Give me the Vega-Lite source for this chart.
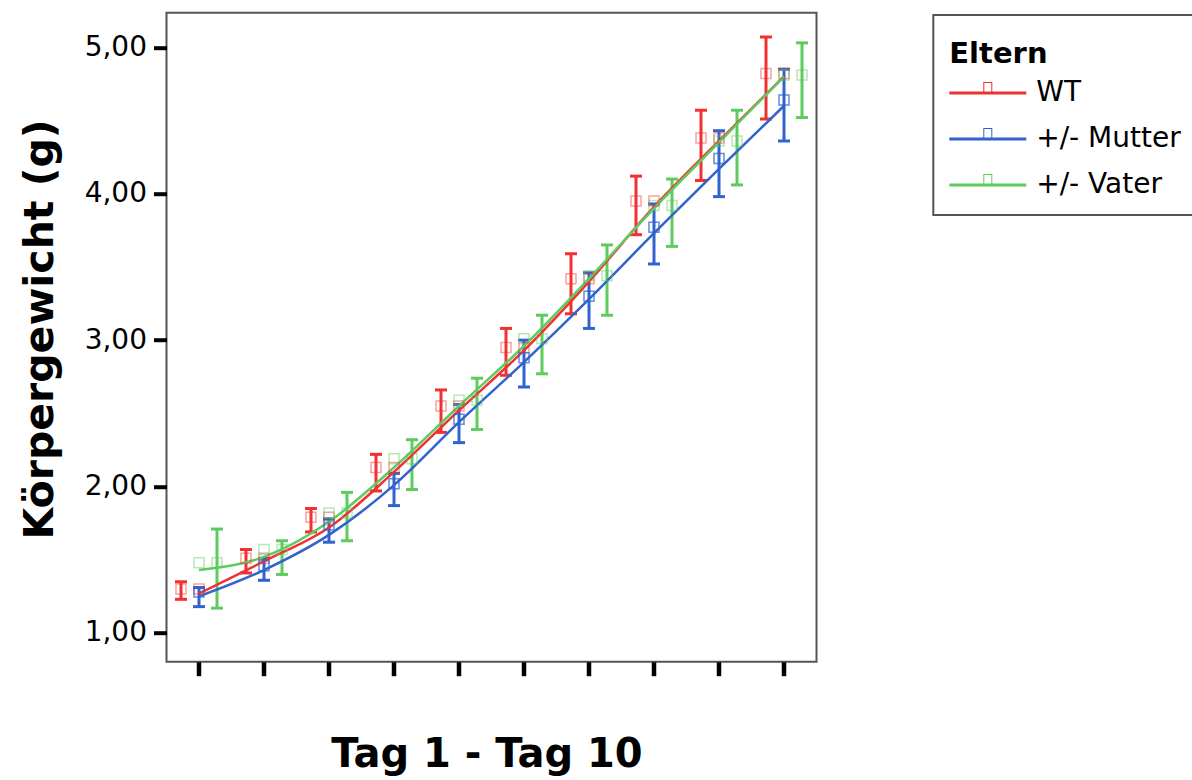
{
  "$schema": "https://vega.github.io/schema/vega-lite/v6.json",
  "width": 650,
  "height": 649,
  "autosize": {"type": "none"},
  "padding": {"left": 166.5, "top": 12.7, "right": 375.5, "bottom": 118.3},
  "background": "white",
  "config": {
    "font": "DejaVu Sans",
    "view": {"stroke": "#555555", "strokeWidth": 2}
  },
  "data": {
    "values": [
      {"day": 1, "group": "WT", "mean": 1.30, "lo": 1.23, "hi": 1.35, "fit": 1.27},
      {"day": 2, "group": "WT", "mean": 1.51, "lo": 1.41, "hi": 1.57, "fit": 1.49},
      {"day": 3, "group": "WT", "mean": 1.79, "lo": 1.69, "hi": 1.85, "fit": 1.72},
      {"day": 4, "group": "WT", "mean": 2.13, "lo": 1.97, "hi": 2.22, "fit": 2.10},
      {"day": 5, "group": "WT", "mean": 2.55, "lo": 2.37, "hi": 2.66, "fit": 2.52},
      {"day": 6, "group": "WT", "mean": 2.95, "lo": 2.76, "hi": 3.08, "fit": 2.93},
      {"day": 7, "group": "WT", "mean": 3.42, "lo": 3.18, "hi": 3.59, "fit": 3.40},
      {"day": 8, "group": "WT", "mean": 3.95, "lo": 3.72, "hi": 4.12, "fit": 3.91},
      {"day": 9, "group": "WT", "mean": 4.38, "lo": 4.09, "hi": 4.57, "fit": 4.36},
      {"day": 10, "group": "WT", "mean": 4.82, "lo": 4.51, "hi": 5.07, "fit": 4.80},
      {"day": 1, "group": "+/- Mutter", "mean": 1.28, "lo": 1.18, "hi": 1.31, "fit": 1.25},
      {"day": 2, "group": "+/- Mutter", "mean": 1.46, "lo": 1.36, "hi": 1.51, "fit": 1.43},
      {"day": 3, "group": "+/- Mutter", "mean": 1.74, "lo": 1.62, "hi": 1.78, "fit": 1.67},
      {"day": 4, "group": "+/- Mutter", "mean": 2.02, "lo": 1.87, "hi": 2.09, "fit": 2.01},
      {"day": 5, "group": "+/- Mutter", "mean": 2.46, "lo": 2.30, "hi": 2.56, "fit": 2.44},
      {"day": 6, "group": "+/- Mutter", "mean": 2.88, "lo": 2.68, "hi": 3.00, "fit": 2.85},
      {"day": 7, "group": "+/- Mutter", "mean": 3.30, "lo": 3.08, "hi": 3.46, "fit": 3.28},
      {"day": 8, "group": "+/- Mutter", "mean": 3.77, "lo": 3.52, "hi": 3.93, "fit": 3.73},
      {"day": 9, "group": "+/- Mutter", "mean": 4.24, "lo": 3.98, "hi": 4.43, "fit": 4.17},
      {"day": 10, "group": "+/- Mutter", "mean": 4.64, "lo": 4.36, "hi": 4.85, "fit": 4.60},
      {"day": 1, "group": "+/- Vater", "mean": 1.48, "lo": 1.17, "hi": 1.71, "fit": 1.43},
      {"day": 2, "group": "+/- Vater", "mean": 1.57, "lo": 1.40, "hi": 1.63, "fit": 1.52},
      {"day": 3, "group": "+/- Vater", "mean": 1.82, "lo": 1.63, "hi": 1.96, "fit": 1.76},
      {"day": 4, "group": "+/- Vater", "mean": 2.19, "lo": 1.98, "hi": 2.32, "fit": 2.13},
      {"day": 5, "group": "+/- Vater", "mean": 2.59, "lo": 2.39, "hi": 2.74, "fit": 2.55},
      {"day": 6, "group": "+/- Vater", "mean": 3.01, "lo": 2.77, "hi": 3.17, "fit": 2.96},
      {"day": 7, "group": "+/- Vater", "mean": 3.44, "lo": 3.17, "hi": 3.65, "fit": 3.42},
      {"day": 8, "group": "+/- Vater", "mean": 3.92, "lo": 3.64, "hi": 4.10, "fit": 3.90},
      {"day": 9, "group": "+/- Vater", "mean": 4.36, "lo": 4.06, "hi": 4.57, "fit": 4.35},
      {"day": 10, "group": "+/- Vater", "mean": 4.81, "lo": 4.52, "hi": 5.03, "fit": 4.80}
    ]
  },
  "encoding": {
    "x": {
      "field": "day",
      "type": "ordinal",
      "scale": {"type": "band", "paddingInner": 0, "paddingOuter": 0},
      "axis": {
        "title": "Tag 1 - Tag 10",
        "titleFont": "DejaVu Sans",
        "titleFontSize": 40,
        "titleFontWeight": "bold",
        "titleColor": "black",
        "titleX": 320,
        "titleY": 105,
        "titleAlign": "center",
        "titleBaseline": "alphabetic",
        "labels": false,
        "domain": false,
        "grid": false,
        "bandPosition": 0.5,
        "ticks": true,
        "tickSize": 14,
        "tickWidth": 4.5,
        "tickColor": "black"
      }
    },
    "color": {
      "field": "group",
      "type": "nominal",
      "scale": {
        "domain": ["WT", "+/- Mutter", "+/- Vater"],
        "range": ["#f23030", "#3063cf", "#5ecb5e"]
      },
      "legend": {
        "title": "Eltern",
        "orient": "none",
        "legendX": 766.8,
        "legendY": 2.3,
        "padding": 16,
        "strokeColor": "#555555",
        "titleFont": "DejaVu Sans",
        "titleFontSize": 29,
        "titleFontWeight": "bold",
        "titleColor": "black",
        "titlePadding": 19,
        "labelFont": "DejaVu Sans",
        "labelFontSize": 28,
        "labelColor": "black",
        "labelOffset": 34.4,
        "labelLimit": 400,
        "symbolType": "M-3.85,-0.15H3.85V0.15H-3.85Z M-0.45,-1.1H0.45V0H-0.45Z M-0.35,-1V0H0.35V-1Z",
        "symbolSize": 400,
        "symbolStrokeWidth": 0,
        "symbolOffset": 24.5,
        "symbolOpacity": 1,
        "rowPadding": 18,
        "encode": {
          "legend": {"update": {"strokeWidth": {"value": 2}}},
          "title": {"update": {"dy": {"value": 9}}},
          "symbols": {
            "update": {
              "fill": {"scale": "color", "field": "value"},
              "stroke": {"value": "transparent"},
              "strokeWidth": {"value": 0},
              "opacity": {"value": 1}
            }
          }
        }
      }
    }
  },
  "layer": [
    {
      "mark": {"type": "rule", "strokeWidth": 3},
      "encoding": {
        "xOffset": {"field": "group", "type": "nominal", "sort": ["WT", "+/- Mutter", "+/- Vater"], "scale": {"paddingInner": 0, "paddingOuter": 0.305}},
        "y": {
          "field": "lo",
          "type": "quantitative",
          "scale": {"domain": [0.804, 5.236], "nice": false, "zero": false},
          "axis": {
            "title": "Körpergewicht (g)",
            "titleFont": "DejaVu Sans",
            "titleFontSize": 41,
            "titleFontWeight": "bold",
            "titleColor": "black",
            "titleAngle": -90,
            "titleX": -114.5,
            "titleY": 316.3,
            "titleAlign": "center",
            "titleBaseline": "alphabetic",
            "values": [1, 2, 3, 4, 5],
            "labelExpr": "replace(format(datum.value, '.2f'), '.', ',')",
            "labelFont": "DejaVu Sans",
            "labelFontSize": 28,
            "labelColor": "black",
            "labelPadding": 7,
            "domain": false,
            "grid": false,
            "tickSize": 13,
            "tickWidth": 4,
            "tickColor": "black"
          }
        },
        "y2": {"field": "hi"}
      }
    },
    {
      "mark": {"type": "point", "shape": "M-1,0H1", "size": 144, "strokeWidth": 3, "filled": false, "opacity": 1},
      "encoding": {
        "xOffset": {"field": "group", "type": "nominal", "sort": ["WT", "+/- Mutter", "+/- Vater"]},
        "y": {"field": "lo", "type": "quantitative"}
      }
    },
    {
      "mark": {"type": "point", "shape": "M-1,0H1", "size": 144, "strokeWidth": 3, "filled": false, "opacity": 1},
      "encoding": {
        "xOffset": {"field": "group", "type": "nominal", "sort": ["WT", "+/- Mutter", "+/- Vater"]},
        "y": {"field": "hi", "type": "quantitative"}
      }
    },
    {
      "mark": {"type": "line", "strokeWidth": 2.5, "interpolate": "monotone"},
      "encoding": {
        "y": {"field": "fit", "type": "quantitative"}
      }
    },
    {
      "mark": {"type": "point", "shape": "square", "size": 100, "strokeWidth": 1.5, "filled": false, "opacity": 0.45},
      "encoding": {
        "xOffset": {"field": "group", "type": "nominal", "sort": ["WT", "+/- Mutter", "+/- Vater"]},
        "y": {"field": "mean", "type": "quantitative"}
      }
    },
    {
      "mark": {"type": "point", "shape": "square", "size": 100, "strokeWidth": 1.5, "filled": false, "opacity": 0.45},
      "encoding": {
        "y": {"field": "mean", "type": "quantitative"}
      }
    }
  ]
}
